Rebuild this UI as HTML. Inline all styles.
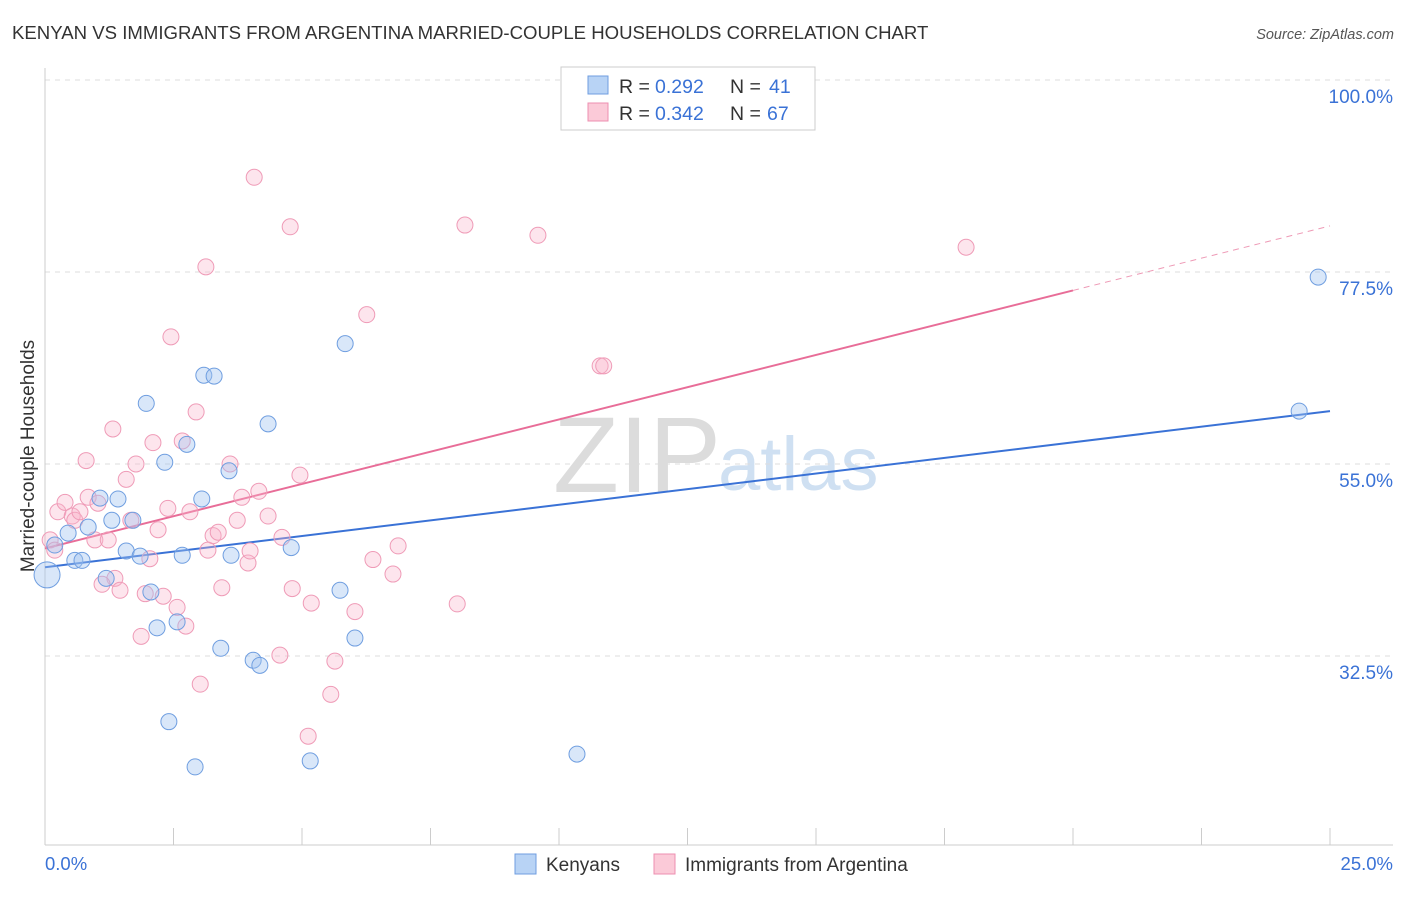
<!DOCTYPE html>
<html><head><meta charset="utf-8">
<style>
body{margin:0;background:#fff;font-family:"Liberation Sans",sans-serif;}
svg text{font-family:"Liberation Sans",sans-serif;}
</style></head>
<body>
<svg id="chart" width="1406" height="892" xmlns="http://www.w3.org/2000/svg">
<text x="12" y="39" font-size="18.6" fill="#333">KENYAN VS IMMIGRANTS FROM ARGENTINA MARRIED-COUPLE HOUSEHOLDS CORRELATION CHART</text>
<text x="1394" y="39" font-size="14.5" fill="#555" font-style="italic" text-anchor="end">Source: ZipAtlas.com</text>
<text x="34" y="456" font-size="19" fill="#333" text-anchor="middle" transform="rotate(-90 34 456)">Married-couple Households</text>
<text x="553" y="492" font-size="108" fill="#dcdcdc" font-family="Liberation Serif">ZIP</text>
<text x="718" y="490" font-size="76" fill="#cfe0f2">atlas</text>
<g id="grid"></g><g id="axes"></g><g id="lines"></g><g id="pts"></g>
<g>
<rect x="561" y="67" width="254" height="63" fill="#fff" stroke="#ccc"/>
<rect x="588" y="76" width="20" height="18" fill="#b8d3f5" stroke="#6f9ee0"/>
<text x="619" y="93" font-size="19.5" fill="#333">R =</text>
<text x="655" y="93" font-size="19.5" fill="#3a72d6">0.292</text>
<text x="730" y="93" font-size="19.5" fill="#333">N =</text>
<text x="769" y="93" font-size="19.5" fill="#3a72d6">41</text>
<rect x="588" y="103" width="20" height="18" fill="#fbcad8" stroke="#ee8fb0"/>
<text x="619" y="120" font-size="19.5" fill="#333">R =</text>
<text x="655" y="120" font-size="19.5" fill="#3a72d6">0.342</text>
<text x="730" y="120" font-size="19.5" fill="#333">N =</text>
<text x="767" y="120" font-size="19.5" fill="#3a72d6">67</text>
</g>
<g>
<rect x="515" y="854" width="21" height="20" fill="#b8d3f5" stroke="#6f9ee0"/>
<text x="546" y="871" font-size="19" fill="#333">Kenyans</text>
<rect x="654" y="854" width="21" height="20" fill="#fbcad8" stroke="#ee8fb0"/>
<text x="685" y="871" font-size="19" fill="#333">Immigrants from Argentina</text>
</g>
<text x="45" y="870" font-size="18.5" fill="#3a72d6">0.0%</text>
<text x="1393" y="870" font-size="18.5" fill="#3a72d6" text-anchor="end">25.0%</text>
</svg>
<script>
const kenX=[0.04,0.19,0.45,0.58,0.72,0.84,1.07,1.19,1.30,1.42,1.58,1.71,1.85,1.97,2.06,2.18,2.33,2.41,2.57,2.67,2.76,2.92,3.05,3.09,3.29,3.42,3.58,3.62,4.05,4.18,4.34,4.79,5.16,5.74,5.84,6.03,10.35,24.40,24.77];
const kenY=[42.0,45.5,46.9,43.7,43.7,47.6,51.0,41.6,48.4,50.9,44.8,48.4,44.2,62.1,40.0,35.8,55.2,24.8,36.5,44.3,57.3,19.5,50.9,65.4,65.3,33.4,54.2,44.3,32.0,31.4,59.7,45.2,20.2,40.2,69.1,34.6,21.0,61.2,76.9];
const argX=[0.10,0.19,0.25,0.39,0.53,0.58,0.68,0.80,0.84,0.97,1.03,1.23,1.32,1.36,1.46,1.11,1.58,1.67,1.77,1.87,1.95,2.04,2.10,2.20,2.30,2.39,2.45,2.57,2.67,2.74,2.82,2.94,3.02,3.13,3.17,3.27,3.37,3.44,3.60,3.74,3.83,3.95,3.99,4.07,4.16,4.34,4.57,4.61,4.77,4.81,4.96,5.18,5.12,5.56,5.64,6.03,6.26,6.38,6.77,6.87,8.02,8.17,9.59,10.80,10.87,17.92];
const argY=[46.1,44.9,49.4,50.5,48.9,48.4,49.4,55.4,51.1,46.1,50.4,46.1,59.1,41.6,40.2,40.9,53.2,48.4,55.0,34.8,39.8,43.9,57.5,47.3,39.5,49.8,69.9,38.2,57.7,36.0,49.4,61.1,29.2,78.1,44.9,46.6,47.0,40.5,55.0,48.4,51.1,43.4,44.8,88.6,51.8,48.9,32.6,46.4,82.8,40.4,53.7,38.7,23.1,28.0,31.9,37.7,72.5,43.8,42.1,45.4,38.6,83.0,81.8,66.5,66.5,80.4];
const yTicks=[100,77.5,55,32.5];
const yTickLabels=["100.0%","77.5%","55.0%","32.5%"];
const kenTrend=[42.9,61.2]; // value at x=0, x=25
const argTrend=[45.1,82.9];
const argSolidEnd=20;

const NS="http://www.w3.org/2000/svg";
const X=v=>45+v/25*1285;
const Y=v=>80+(100-v)*8.533;
function mk(tag,attrs,parent){const e=document.createElementNS(NS,tag);for(const k in attrs)e.setAttribute(k,attrs[k]);document.getElementById(parent).appendChild(e);return e;}
yTicks.forEach((t,i)=>{
  const g=mk('line',{x1:45,x2:1393,y1:Y(t),y2:Y(t),stroke:'#ddd','stroke-dasharray':'5,5'},'grid');
  
  
  const tx=mk('text',{x:1393,y:Y(t)+23,'font-size':19,fill:'#3a72d6','text-anchor':'end'},'grid');
  tx.textContent=yTickLabels[i];
  
  
});
let ax=mk('line',{x1:45,x2:45,y1:68,y2:845,stroke:'#ccc'},'axes');


ax=mk('line',{x1:45,x2:1393,y1:845,y2:845,stroke:'#ccc'},'axes');


for(let i=0;i<=10;i++){const t=mk('line',{x1:X(i*2.5),x2:X(i*2.5),y1:828,y2:845,stroke:'#ccc'},'axes');
  
  }
const lin=(tr,x)=>tr[0]+(tr[1]-tr[0])*x/25;
let l=mk('line',{x1:X(0),y1:Y(lin(kenTrend,0)),x2:X(25),y2:Y(lin(kenTrend,25)),stroke:'#3a72d6','stroke-width':2},'lines');


l=mk('line',{x1:X(0),y1:Y(lin(argTrend,0)),x2:X(argSolidEnd),y2:Y(lin(argTrend,argSolidEnd)),stroke:'#e86d98','stroke-width':2},'lines');


l=mk('line',{x1:X(argSolidEnd),y1:Y(lin(argTrend,argSolidEnd)),x2:X(25),y2:Y(lin(argTrend,25)),stroke:'#ee9ab6','stroke-width':1,'stroke-dasharray':'6,5'},'lines');


argX.forEach((v,i)=>{const c=mk('circle',{cx:X(v),cy:Y(argY[i]),r:8,fill:'rgba(248,180,202,0.35)',stroke:'#ef9bb7','stroke-width':1},'pts');
  
  });
kenX.forEach((v,i)=>{const c=mk('circle',{cx:X(v),cy:Y(kenY[i]),r:i==0?13:8,fill:'rgba(160,195,240,0.4)',stroke:'#6f9ee0','stroke-width':1},'pts');
  
  });
</script>
</body></html>
